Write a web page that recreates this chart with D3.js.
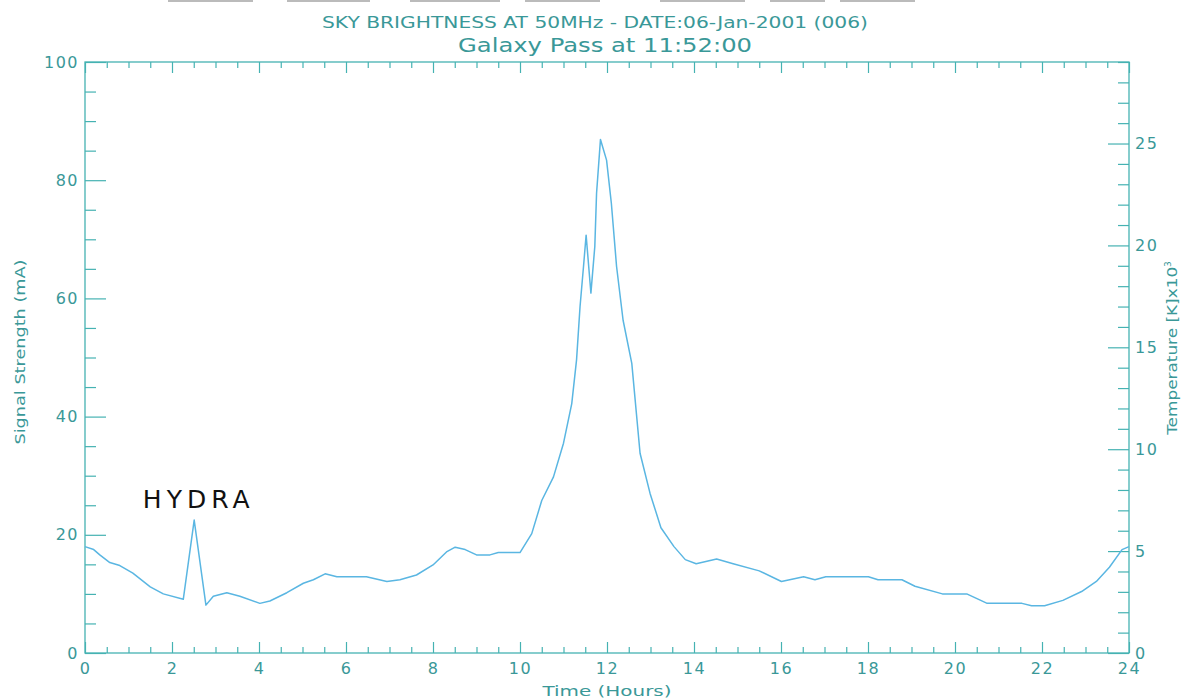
<!DOCTYPE html>
<html>
<head>
<meta charset="utf-8">
<script src="https://cdn.jsdelivr.net/npm/d3@7"></script>
<style>
  html, body { margin: 0; padding: 0; background: #fff; }
  svg { display: block; }
  text { font-family: "DejaVu Sans", sans-serif; }
</style>
</head>
<body>
<svg id="chart" width="1191" height="700"></svg>
<script>
// ---- data ----
const hours = [0.0, 0.2, 0.34, 0.57, 0.8, 1.1, 1.5, 1.8, 2.26, 2.51, 2.78, 2.95, 3.26, 3.56, 4.02, 4.25, 4.64, 5.02, 5.25, 5.52, 5.79, 6.47, 6.94, 7.24, 7.62, 8.0, 8.31, 8.51, 8.74, 9.0, 9.31, 9.5, 10.0, 10.27, 10.5, 10.77, 11.0, 11.19, 11.3, 11.38, 11.46, 11.52, 11.63, 11.72, 11.76, 11.85, 11.99, 12.1, 12.22, 12.37, 12.57, 12.76, 12.99, 13.24, 13.54, 13.8, 14.05, 14.52, 14.9, 15.5, 16.01, 16.52, 16.78, 17.03, 18.01, 18.23, 18.78, 19.08, 19.71, 20.27, 20.74, 21.54, 21.76, 22.06, 22.48, 22.91, 23.25, 23.55, 23.84, 24.0];
const signal = [18.0, 17.5, 16.6, 15.3, 14.8, 13.5, 11.2, 10.0, 9.1, 22.5, 8.1, 9.6, 10.2, 9.6, 8.4, 8.8, 10.2, 11.8, 12.4, 13.4, 12.9, 12.9, 12.1, 12.4, 13.2, 14.9, 17.1, 17.9, 17.5, 16.6, 16.6, 17.0, 17.0, 20.2, 25.8, 29.8, 35.5, 42.2, 49.6, 58.6, 65.4, 70.7, 60.9, 68.8, 77.8, 86.9, 83.4, 76.1, 65.4, 56.3, 49.0, 33.8, 27.0, 21.2, 18.0, 15.8, 15.1, 15.9, 15.1, 13.9, 12.1, 12.9, 12.4, 12.9, 12.9, 12.4, 12.4, 11.3, 10.0, 10.0, 8.4, 8.4, 8.0, 8.0, 8.9, 10.4, 12.1, 14.5, 17.5, 18.0];
const xTicks = [0, 2, 4, 6, 8, 10, 12, 14, 16, 18, 20, 22, 24];
const yTicks = [0, 20, 40, 60, 80, 100];
const tempTicks = [0, 5, 10, 15, 20, 25];
const titleText = "SKY BRIGHTNESS AT 50MHz - DATE:06-Jan-2001 (006)";
const subtitleText = "Galaxy Pass at 11:52:00";
const xLabel = "Time (Hours)";
const yLabel = "Signal Strength (mA)";
const annotation = { text: "HYDRA", hour: 1.33, value: 24.6 };

// ---- layout ----
const L = 85, R = 1129, T = 62, B = 653;
const axisColor = "#45b2b2";
const textColor = "#3a9898";
const lineColor = "#5ab6e2";

const svg = d3.select("#chart");

const x = d3.scaleLinear().domain([0, 24]).range([L, R]);
const y = d3.scaleLinear().domain([0, 100]).range([B, T]);
const yT = d3.scaleLinear().domain([0, 29]).range([B, T]);

// faint remnants at top edge
const remnants = [[168, 253], [287, 370], [410, 500], [525, 600], [660, 745], [770, 825], [840, 915]];
svg.selectAll("rect.rem").data(remnants).enter().append("rect")
  .attr("x", d => d[0]).attr("y", 0).attr("width", d => d[1] - d[0]).attr("height", 2)
  .attr("fill", "#bbbbbb");

function styleAxis(g) {
  g.select(".domain").remove();
  g.selectAll(".tick line").attr("stroke", axisColor).attr("stroke-width", 1.2);
  g.selectAll(".tick text").attr("fill", textColor).attr("font-size", 16)
    .attr("font-family", "DejaVu Sans, sans-serif").style("letter-spacing", "1.5px");
}

// minor ticks
const xMinor = d3.range(0, 24.01, 0.5).filter(v => v % 2 !== 0);
const yMinor = d3.range(0, 100.01, 5).filter(v => v % 20 !== 0);
const tMinor = d3.range(0, 29.01, 1).filter(v => v % 5 !== 0);

svg.append("g").attr("transform", `translate(0,${B})`)
  .call(d3.axisBottom(x).tickValues(xMinor).tickSize(-6).tickFormat("")).call(styleAxis);
svg.append("g").attr("transform", `translate(0,${T})`)
  .call(d3.axisTop(x).tickValues(xMinor).tickSize(-6).tickFormat("")).call(styleAxis);
svg.append("g").attr("transform", `translate(${L},0)`)
  .call(d3.axisLeft(y).tickValues(yMinor).tickSize(-11).tickFormat("")).call(styleAxis);
svg.append("g").attr("transform", `translate(${R},0)`)
  .call(d3.axisRight(yT).tickValues(tMinor).tickSize(-11).tickFormat("")).call(styleAxis);

// major ticks
svg.append("g").attr("transform", `translate(0,${B})`)
  .call(d3.axisBottom(x).tickValues(xTicks).tickSize(-11).tickPadding(10).tickFormat(d3.format("d")))
  .call(styleAxis);
svg.append("g").attr("transform", `translate(0,${T})`)
  .call(d3.axisTop(x).tickValues(xTicks).tickSize(-11).tickFormat("")).call(styleAxis);
svg.append("g").attr("transform", `translate(${L},0)`)
  .call(d3.axisLeft(y).tickValues(yTicks).tickSize(-21).tickPadding(6).tickFormat(d3.format("d")))
  .call(styleAxis);
svg.append("g").attr("transform", `translate(${R},0)`)
  .call(d3.axisRight(yT).tickValues(tempTicks).tickSize(-21).tickPadding(6).tickFormat(d3.format("d")))
  .call(styleAxis);

// frame
svg.append("rect").attr("x", L).attr("y", T).attr("width", R - L).attr("height", B - T)
  .attr("fill", "none").attr("stroke", axisColor).attr("stroke-width", 1.3);

// data line
const pts = hours.map((h, i) => [h, signal[i]]);
svg.append("path").datum(pts)
  .attr("d", d3.line().x(d => x(d[0])).y(d => y(d[1])))
  .attr("fill", "none").attr("stroke", lineColor).attr("stroke-width", 1.5)
  .attr("stroke-linejoin", "round");

// titles
svg.append("text").attr("x", 595).attr("y", 28).attr("text-anchor", "middle")
  .attr("font-size", 15).attr("fill", textColor)
  .attr("textLength", 546).attr("lengthAdjust", "spacingAndGlyphs").text(titleText);
svg.append("text").attr("x", 605).attr("y", 52).attr("text-anchor", "middle")
  .attr("font-size", 19).attr("fill", textColor)
  .attr("textLength", 294).attr("lengthAdjust", "spacingAndGlyphs").text(subtitleText);

// axis labels
svg.append("text").attr("x", 607).attr("y", 696).attr("text-anchor", "middle")
  .attr("font-size", 14).attr("fill", textColor)
  .attr("textLength", 129).attr("lengthAdjust", "spacingAndGlyphs").text(xLabel);
svg.append("text").attr("transform", "translate(25,352) rotate(-90)").attr("text-anchor", "middle")
  .attr("font-size", 14).attr("fill", textColor)
  .attr("textLength", 185).attr("lengthAdjust", "spacingAndGlyphs").text(yLabel);
const tl = svg.append("text").attr("transform", "translate(1177,348) rotate(-90)").attr("text-anchor", "middle")
  .attr("font-size", 14).attr("fill", textColor);
tl.append("tspan").attr("textLength", 168).attr("lengthAdjust", "spacingAndGlyphs").text("Temperature [K]x10");
tl.append("tspan").attr("font-size", 9).attr("dy", -6).text("3");

// annotation
svg.append("text").attr("x", x(annotation.hour)).attr("y", y(annotation.value))
  .attr("font-family", "Liberation Sans, Arial, sans-serif").attr("font-size", 25)
  .style("letter-spacing", "5px").attr("fill", "#111").text(annotation.text);
</script>
</body>
</html>
